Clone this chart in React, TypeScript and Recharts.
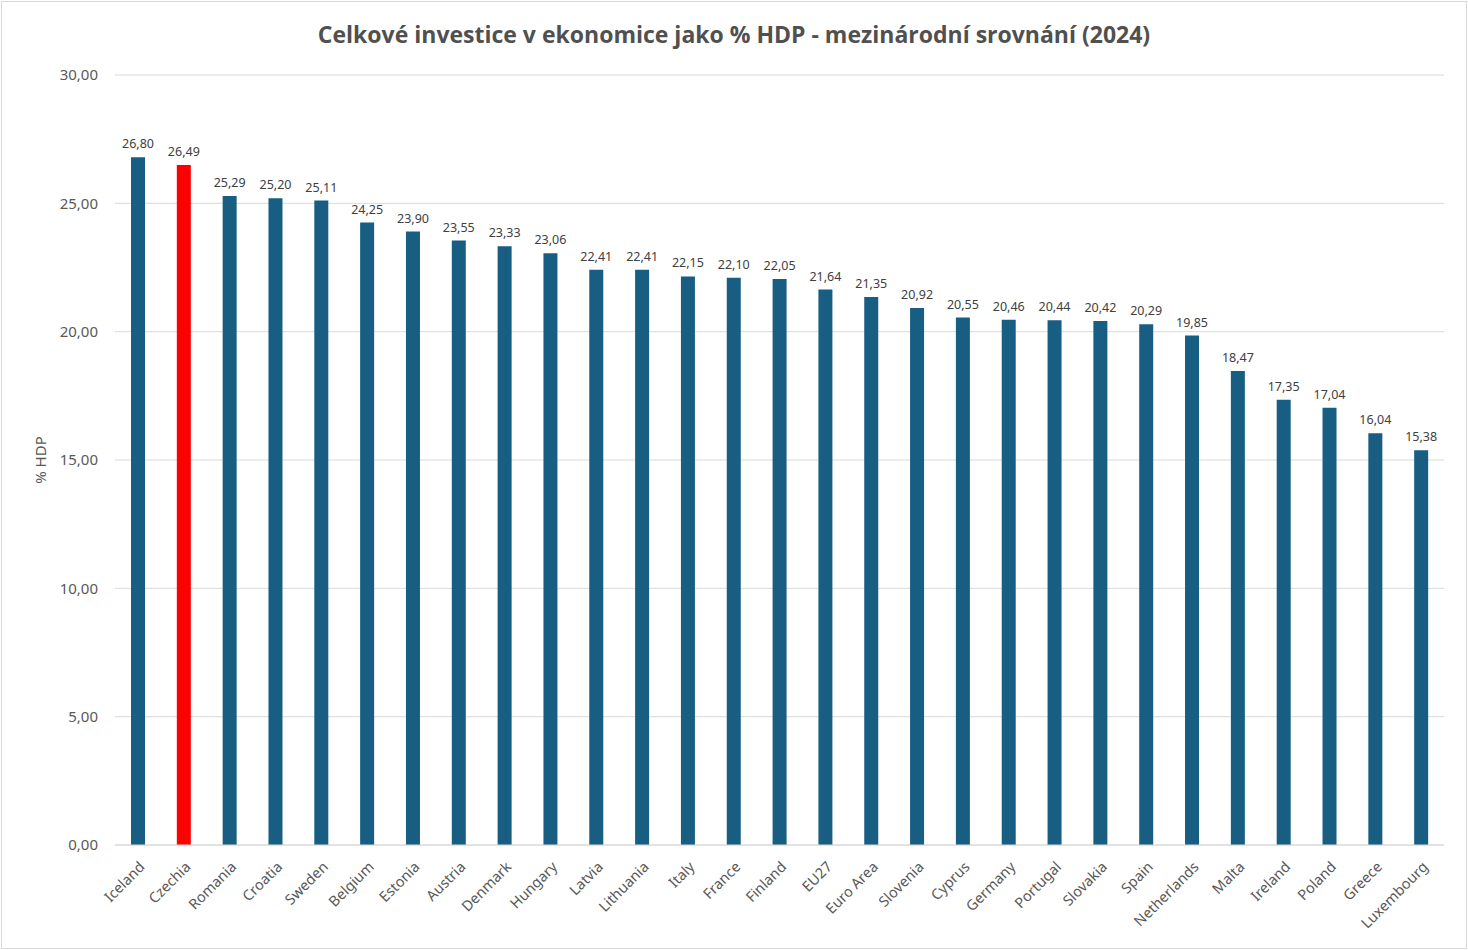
import React from "react";
import { BarChart, Bar, XAxis, YAxis, CartesianGrid, Cell, LabelList } from "recharts";

const countries = [
  "Iceland", "Czechia", "Romania", "Croatia", "Sweden", "Belgium", "Estonia", "Austria",
  "Denmark", "Hungary", "Latvia", "Lithuania", "Italy", "France", "Finland", "EU27",
  "Euro Area", "Slovenia", "Cyprus", "Germany", "Portugal", "Slovakia", "Spain",
  "Netherlands", "Malta", "Ireland", "Poland", "Greece", "Luxembourg",
];
const investPct = [
  26.8, 26.49, 25.29, 25.2, 25.11, 24.25, 23.9, 23.55, 23.33, 23.06, 22.41, 22.41,
  22.15, 22.1, 22.05, 21.64, 21.35, 20.92, 20.55, 20.46, 20.44, 20.42, 20.29, 19.85,
  18.47, 17.35, 17.04, 16.04, 15.38,
];
const yTicks = [0, 5, 10, 15, 20, 25, 30];
const highlight = "Czechia";

const data = countries.map((c, i) => ({ country: c, value: investPct[i] }));

const blue = "#175E82";
const red = "#FF0000";
const textGrey = "#595959";
const font = "'Noto Sans', 'Liberation Sans', sans-serif";

const fmt = (v: any) => Number(v).toFixed(2).replace(".", ",");

function CountryTick(props: any) {
  const { x, y, payload } = props;
  return (
    <g transform={`translate(${x + 5},${y + 12}) rotate(-45)`}>
      <text x={0} y={0} textAnchor="end" dominantBaseline="middle" fontSize={14.5} fill={textGrey} fontFamily={font}>
        {payload.value}
      </text>
    </g>
  );
}

export default function App() {
  return (
    <div style={{ position: "relative", width: 1468, height: 950, background: "#fff" }}>
      <style>{"body{margin:0}"}</style>
      <div style={{ position: "absolute", left: 1, top: 1, width: 1464, height: 946, border: "1px solid #d9d9d9", pointerEvents: "none" }} />
      <div
        style={{
          position: "absolute", top: 18, left: 0, width: 1468, textAlign: "center",
          fontFamily: "'Open Sans', sans-serif", fontWeight: 700, fontSize: 23, color: "#505050",
        }}
      >
        Celkové investice v ekonomice jako % HDP - mezinárodní srovnání (2024)
      </div>
      <div
        style={{
          position: "absolute", left: 40, top: 460, transform: "translate(-50%,-50%) rotate(-90deg)",
          fontFamily: font, fontSize: 15, color: textGrey, whiteSpace: "nowrap",
        }}
      >
        % HDP
      </div>
      <BarChart width={1468} height={950} data={data} margin={{ top: 75, right: 24, bottom: 0, left: 0 }} barSize={14}>
        <CartesianGrid vertical={false} stroke="#d9d9d9" />
        <XAxis
          dataKey="country"
          interval={0}
          tickLine={false}
          axisLine={{ stroke: "#d9d9d9" }}
          tick={<CountryTick />}
          height={105}
        />
        <YAxis
          width={115}
          domain={[0, 30]}
          ticks={yTicks}
          tickFormatter={fmt}
          tickLine={false}
          axisLine={false}
          tickMargin={11}
          tick={{ fontSize: 15, fill: textGrey, fontFamily: font }}
        />
        <Bar dataKey="value" isAnimationActive={false}>
          {data.map((d) => (
            <Cell key={d.country} fill={d.country === highlight ? red : blue} />
          ))}
          <LabelList dataKey="value" position="top" offset={9} formatter={fmt} fontSize={12.5} fill="#404040" fontFamily={font} />
        </Bar>
      </BarChart>
    </div>
  );
}
